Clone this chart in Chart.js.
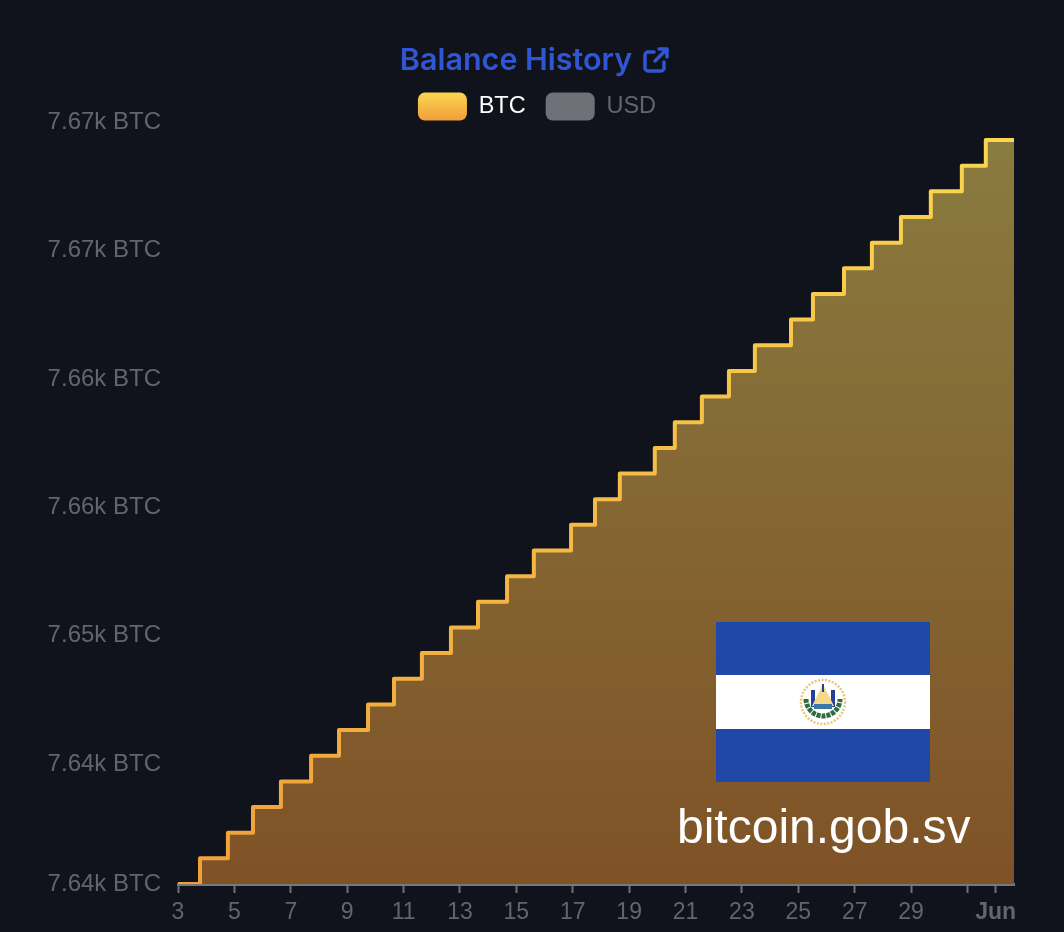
<!DOCTYPE html>
<html>
<head>
<meta charset="utf-8">
<title>Balance History</title>
<script src="https://cdn.jsdelivr.net/npm/chart.js@4/dist/chart.umd.min.js"></script>
<style>
    html, body { margin: 0; padding: 0; background: #10131c; }
    #wrap { position: relative; width: 1064px; height: 932px; overflow: hidden; }
    #canvasBalance { position: absolute; left: 0; top: 0; }
    #linkIcon { position: absolute; left: 642px; top: 46px; }
    #flag { position: absolute; left: 716px; top: 622px; width: 214px; height: 160px; background: #2048a8; }
    #flag .white { position: absolute; left: 0; top: 53px; width: 214px; height: 54px; background: #fff; }
    #flag svg { position: absolute; left: 82px; top: 55px; }
    #site { position: absolute; left: 677px; top: 799px; font: 48px "Liberation Sans", sans-serif; color: #fff; white-space: nowrap; }
</style>
</head>
<body>
<div id="wrap">
    <canvas id="canvasBalance" width="1064" height="932"></canvas>
    <svg id="linkIcon" width="28" height="28" viewBox="0 0 28 28" fill="none" stroke="#3056d3" stroke-width="3.5" stroke-linecap="round" stroke-linejoin="round">
        <path d="M12 6H6a3 3 0 0 0-3 3v13a3 3 0 0 0 3 3h13a3 3 0 0 0 3-3v-6"/>
        <path d="M13 15L25 3M17 3h8v8"/>
    </svg>
    <div id="flag">
        <div class="white"></div>
        <svg width="50" height="50" viewBox="0 0 50 50">
            <circle cx="25" cy="25" r="22" fill="none" stroke="#e8c878" stroke-width="2.5" stroke-dasharray="2 1.5"/>
            <path d="M8 22a17 17 0 0 0 34 0" fill="none" stroke="#2f6b3c" stroke-width="5" stroke-dasharray="4 1"/>
            <path d="M15 13v17M35 13v17" stroke="#24409a" stroke-width="4"/>
            <path d="M25 7L36 29H14z" fill="#f4d98a"/>
            <rect x="16" y="27" width="18" height="5" fill="#3a78a8"/>
            <path d="M25 7v8" stroke="#24409a" stroke-width="2"/>
        </svg>
    </div>
    <div id="site">bitcoin.gob.sv</div>
</div>
<script>
"use strict";

// days of May, June 1 = 32
var stepDays = [3, 3.78, 4.77, 5.66, 6.65, 7.72, 8.71, 9.74, 10.66, 11.65, 12.68, 13.64, 14.67, 15.62, 16.94, 17.79,
    18.67, 19.91, 20.62, 21.58, 22.54, 23.46, 24.74, 25.52, 26.62, 27.61, 28.64, 29.7, 30.8, 31.65, 32.65];
var btcBalance = [7640.32, 7641.32, 7642.32, 7643.32, 7644.32, 7645.32, 7646.32, 7647.32, 7648.32, 7649.32, 7650.32,
    7651.32, 7652.32, 7653.32, 7654.32, 7655.32, 7656.32, 7657.32, 7658.32, 7659.32, 7660.32, 7661.32, 7662.32,
    7663.32, 7664.32, 7665.32, 7666.32, 7667.32, 7668.32, 7669.32, 7669.32];

var yTickValues = [7640.32, 7645, 7650, 7655, 7660, 7665, 7670];
var yTickLabels = ["7.64k BTC", "7.64k BTC", "7.65k BTC", "7.66k BTC", "7.66k BTC", "7.67k BTC", "7.67k BTC"];
var xTickValues = [3, 5, 7, 9, 11, 13, 15, 17, 19, 21, 23, 25, 27, 29, 31, 32];
var xTickLabels = ["3", "5", "7", "9", "11", "13", "15", "17", "19", "21", "23", "25", "27", "29", "", "Jun"];

var fontName = '"Liberation Sans", Arial, sans-serif';

function verticalGradient(chart, bottomColor, topColor) {
    var area = chart.chartArea;
    if (!area) return bottomColor;
    var gradient = chart.ctx.createLinearGradient(0, area.bottom, 0, area.top);
    gradient.addColorStop(0, bottomColor);
    gradient.addColorStop(1, topColor);
    return gradient;
}

// the header in the original is not centred on the plot, so nudge title and legend
const headerOffset = {
    id: "headerOffset",
    afterLayout: function (chart) {
        chart.titleBlock.left += 9;
        chart.titleBlock.right += 9;
        chart.titleBlock.top += 27;
        chart.titleBlock.bottom += 27;
        chart.legend.left += 30;
        chart.legend.right += 30;
        chart.legend.top += 8;
        chart.legend.bottom += 8;
    }
};

var points = stepDays.map(function (day, index) {
    return { x: day, y: btcBalance[index] };
});

const context = document.getElementById("canvasBalance");
const balanceChart = new Chart(context, {
    type: "line",
    plugins: [headerOffset],
    data: {
        datasets: [{
            label: "BTC",
            data: points,
            stepped: true,
            pointRadius: 0,
            borderWidth: 4,
            borderJoinStyle: "round",
            borderColor: function (ctx) { return verticalGradient(ctx.chart, "#f0a03a", "#fad750"); },
            backgroundColor: function (ctx) { return verticalGradient(ctx.chart, "#7f5226", "#8a7c40"); },
            fill: "start"
        }, {
            label: "USD",
            data: [],
            borderColor: "#6e7178",
            backgroundColor: "#6e7178"
        }]
    },
    options: {
        responsive: false,
        animation: false,
        events: [],
        layout: { padding: { top: 16, right: 50, left: 0, bottom: 0 } },
        plugins: {
            title: {
                display: true,
                text: "Balance History",
                color: "#3056d3",
                align: "center",
                font: { family: "Inter, " + fontName, size: 30.5, weight: "600" },
                padding: { top: 0, bottom: 12 }
            },
            legend: {
                display: true,
                onClick: null,
                labels: {
                    boxWidth: 49,
                    boxHeight: 28,
                    padding: 20,
                    useBorderRadius: true,
                    borderRadius: 7,
                    font: { family: fontName, size: 23.5 },
                    generateLabels: function (chart) {
                        return [{
                            text: "BTC",
                            fontColor: "#ffffff",
                            fillStyle: (function () {
                                var g = chart.ctx.createLinearGradient(0, 92, 0, 120);
                                g.addColorStop(0, "#fad750");
                                g.addColorStop(1, "#f0a03a");
                                return g;
                            })(),
                            lineWidth: 0,
                            strokeStyle: "transparent",
                            borderRadius: 7,
                            datasetIndex: 0
                        }, {
                            text: "USD",
                            fontColor: "#62656e",
                            fillStyle: "#6e7178",
                            lineWidth: 0,
                            strokeStyle: "transparent",
                            borderRadius: 7,
                            datasetIndex: 1
                        }];
                    }
                }
            },
            tooltip: { enabled: false }
        },
        scales: {
            x: {
                type: "linear",
                min: 3,
                max: 32.65,
                afterFit: function (scale) { scale.height = 48; },
                afterBuildTicks: function (scale) {
                    scale.ticks = xTickValues.map(function (value) { return { value: value }; });
                },
                border: { display: true, color: "#77767c", width: 3 },
                grid: { display: true, drawOnChartArea: false, drawTicks: true, tickLength: 9, tickWidth: 2, color: "#6e7078" },
                ticks: {
                    color: "#62656e",
                    autoSkip: false,
                    maxRotation: 0,
                    padding: 6,
                    font: function (ctx) {
                        return { family: fontName, size: 23, weight: ctx.tick && ctx.tick.value === 32 ? "bold" : "normal" };
                    },
                    callback: function (value) { return xTickLabels[xTickValues.indexOf(value)]; }
                }
            },
            y: {
                type: "linear",
                min: 7640.32,
                max: 7670,
                afterFit: function (scale) { scale.width = 178; },
                afterBuildTicks: function (scale) {
                    scale.ticks = yTickValues.map(function (value) { return { value: value }; });
                },
                border: { display: false },
                grid: { display: false },
                ticks: {
                    color: "#62656e",
                    autoSkip: false,
                    padding: 9,
                    font: { family: fontName, size: 24 },
                    callback: function (value) { return yTickLabels[yTickValues.indexOf(value)]; }
                }
            }
        }
    }
});
</script>
</body>
</html>
